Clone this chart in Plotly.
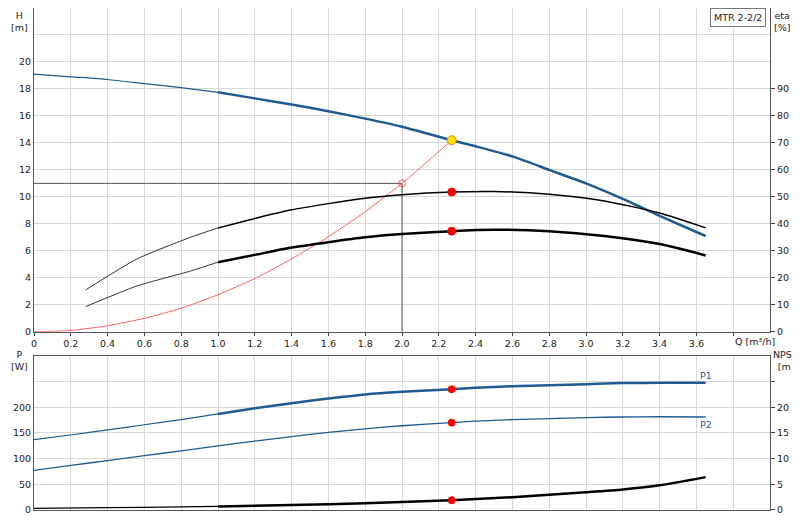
import plotly.graph_objects as go

# pump head curve H [m]
q_h = [0, 0.2, 0.4, 0.6, 0.8, 1.0, 1.2, 1.4, 1.6, 1.8, 2.0, 2.27, 2.4, 2.6, 2.8, 3.0, 3.2, 3.4, 3.65]
h = [19.1, 18.9, 18.7, 18.4, 18.1, 17.75, 17.3, 16.85, 16.35, 15.8, 15.2, 14.2, 13.75, 13.0, 12.0, 11.0, 9.85, 8.6, 7.1]

# efficiency curves eta [%]
q_eta = [0.28, 0.56, 0.85, 1.0, 1.2, 1.4, 1.6, 1.8, 2.0, 2.27, 2.5, 2.8, 3.1, 3.4, 3.65]
eta_pump = [15.5, 27, 35, 38.5, 42, 45.2, 47.5, 49.5, 50.8, 51.8, 52, 51, 48.5, 44, 38.5]
eta_total = [9.3, 17, 22.5, 25.8, 28.5, 31.2, 33.2, 35, 36.2, 37.3, 37.8, 37.3, 35.5, 32.5, 28.3]

# system curve
q_sys = [0, 0.2, 0.4, 0.6, 0.8, 1.0, 1.2, 1.4, 1.6, 1.8, 2.0, 2.27]
h_sys = [0, 0.1, 0.45, 1.0, 1.75, 2.75, 3.95, 5.4, 7.05, 8.9, 11.0, 14.2]

# power curves P [W]
q_p = [0, 0.2, 0.4, 0.6, 0.8, 1.0, 1.2, 1.4, 1.6, 1.8, 2.0, 2.27, 2.4, 2.6, 2.8, 3.0, 3.2, 3.4, 3.65]
p1 = [137, 146, 156, 166, 176, 187, 198, 208, 217, 225, 230, 235, 238, 241, 243, 245, 247, 247.5, 247.5]
p2 = [77, 87, 96, 106, 115, 125, 134, 143, 151, 158, 164, 170, 173, 176, 178, 180, 181, 181.5, 181]

# NPSH [m]
q_npsh = [0, 0.4, 0.8, 1.0, 1.4, 1.8, 2.27, 2.6, 2.8, 3.0, 3.2, 3.4, 3.65]
npsh = [0.3, 0.45, 0.6, 0.7, 0.95, 1.3, 1.9, 2.5, 2.95, 3.45, 4.0, 4.8, 6.4]

duty_q = 2.27
req_q, req_h = 2.0, 11.0

BLUE = "#1f5b93"
FONT = dict(family="DejaVu Sans", size=9.5, color="#222")


def split(qs, ys, at=1.0):
    i = next(k for k, v in enumerate(qs) if v >= at)
    return (qs[:i + 1], ys[:i + 1]), (qs[i:], ys[i:])


fig = go.Figure()


def line(x, y, color, width, xa="x", ya="y"):
    fig.add_trace(go.Scatter(x=x, y=y, mode="lines",
                             line=dict(color=color, width=width, shape="spline", smoothing=0.6),
                             xaxis=xa, yaxis=ya, hoverinfo="skip"))


def dot(x, y, color, size=8, xa="x", ya="y", lc=None):
    fig.add_trace(go.Scatter(x=[x], y=[y], mode="markers", xaxis=xa, yaxis=ya,
                             marker=dict(color=color, size=size,
                                         line=dict(color=lc or color, width=1))))


# requirement crosshair
fig.add_trace(go.Scatter(x=[0, req_q, req_q], y=[req_h, req_h, 0], mode="lines",
                         line=dict(color="#555", width=1), hoverinfo="skip"))

a, b = split(q_h, h)
line(*a, BLUE, 1.2)
line(*b, BLUE, 2.5)
line(q_sys, h_sys, "#ff6060", 1)

a, b = split(q_eta, eta_pump)
line(*a, "#333", 1, ya="y2")
line(*b, "#000", 1.5, ya="y2")
a, b = split(q_eta, eta_total)
line(*a, "#333", 1, ya="y2")
line(*b, "#000", 2.5, ya="y2")

dot(duty_q, eta_pump[q_eta.index(duty_q)], "red", ya="y2")
dot(duty_q, eta_total[q_eta.index(duty_q)], "red", ya="y2")
dot(req_q, req_h, "rgba(0,0,0,0)", 7, lc="#ff5050")
dot(duty_q, h[q_h.index(duty_q)], "#ffe000", 9, lc="#e09000")

a, b = split(q_p, p1)
line(*a, BLUE, 1.2, "x2", "y3")
line(*b, BLUE, 2.5, "x2", "y3")
line(q_p, p2, BLUE, 1.3, "x2", "y3")
a, b = split(q_npsh, npsh)
line(*a, "#000", 1.2, "x2", "y4")
line(*b, "#000", 2.5, "x2", "y4")
dot(duty_q, p1[q_p.index(duty_q)], "red", 7, "x2", "y3")
dot(duty_q, p2[q_p.index(duty_q)], "red", 7, "x2", "y3")
dot(duty_q, npsh[q_npsh.index(duty_q)], "red", 7, "x2", "y4")

xt = [round(0.2 * i, 1) for i in range(20)]
xlab = ["0"] + ["%.1f" % v for v in xt[1:19]] + [""]
grid = "#d8d8d8"
axcommon = dict(showgrid=True, gridcolor=grid, zeroline=False, showline=True,
                linecolor="#555", mirror=True, tickfont=FONT, automargin=False)

fig.update_layout(
    width=800, height=520, margin=dict(l=26, r=38, t=0, b=18),
    paper_bgcolor="white", plot_bgcolor="white", showlegend=False,
    xaxis=dict(axcommon, range=[0, 4.0], tickvals=xt, ticktext=xlab, domain=[0, 1],
               anchor="y", ticks="outside", ticklen=3),
    xaxis2=dict(axcommon, range=[0, 4.0], tickvals=xt, showticklabels=False,
                anchor="y3", domain=[0, 1]),
    yaxis=dict(axcommon, range=[0, 24], domain=[0.355, 1], tickvals=list(range(0, 23, 2)),
               ticktext=[str(v) if v <= 20 else "" for v in range(0, 23, 2)]),
    yaxis2=dict(range=[0, 120], overlaying="y", side="right", anchor="x", showgrid=False,
                zeroline=False, tickvals=list(range(0, 100, 10)), ticks="outside",
                ticklen=4, tickfont=FONT, showline=True, linecolor="#555", automargin=False),
    yaxis3=dict(axcommon, range=[0, 300], domain=[0, 0.307], tickvals=[0, 50, 100, 150, 200, 250],
                ticktext=["0", "50", "100", "150", "200", ""]),
    yaxis4=dict(range=[0, 30], overlaying="y3", side="right", anchor="x2", showgrid=False,
                zeroline=False, tickvals=[0, 5, 10, 15, 20, 25], ticktext=["0", "5", "10", "15", "20", ""],
                ticks="outside", ticklen=4, tickfont=FONT, automargin=False),
)

ann = [
    (0.0, 1.0, "H<br>[m]", "right", -4),
    (1.0, 1.0, "eta<br>[%]", "left", 2),
    (0.0, 0.325, "P<br>[W]", "right", -4),
    (1.0, 0.325, "NPSH<br>[m]", "left", 1),
]
for x, y, t, xa, sh in ann:
    fig.add_annotation(x=x, y=y, xref="paper", yref="paper", text=t, showarrow=False,
                       xanchor=xa, yanchor="top", align="center", font=FONT, xshift=sh)
fig.add_annotation(x=3.92, y=0, xref="x", yref="y", text="Q [m³/h]", showarrow=False,
                   yanchor="top", yshift=-2, font=FONT)
fig.add_annotation(x=3.98, y=24, xref="x", yref="y", text="MTR 2-2/2", showarrow=False,
                   xanchor="right", yanchor="top", font=FONT, bordercolor="#777",
                   borderwidth=1, bgcolor="white", borderpad=3)
fig.add_annotation(x=3.65, y=p1[-1], xref="x2", yref="y3", text="P1", showarrow=False,
                   yanchor="bottom", font=dict(FONT, color=BLUE))
fig.add_annotation(x=3.65, y=p2[-1], xref="x2", yref="y3", text="P2", showarrow=False,
                   yanchor="top", font=dict(FONT, color=BLUE))

fig.write_html("out.html")
